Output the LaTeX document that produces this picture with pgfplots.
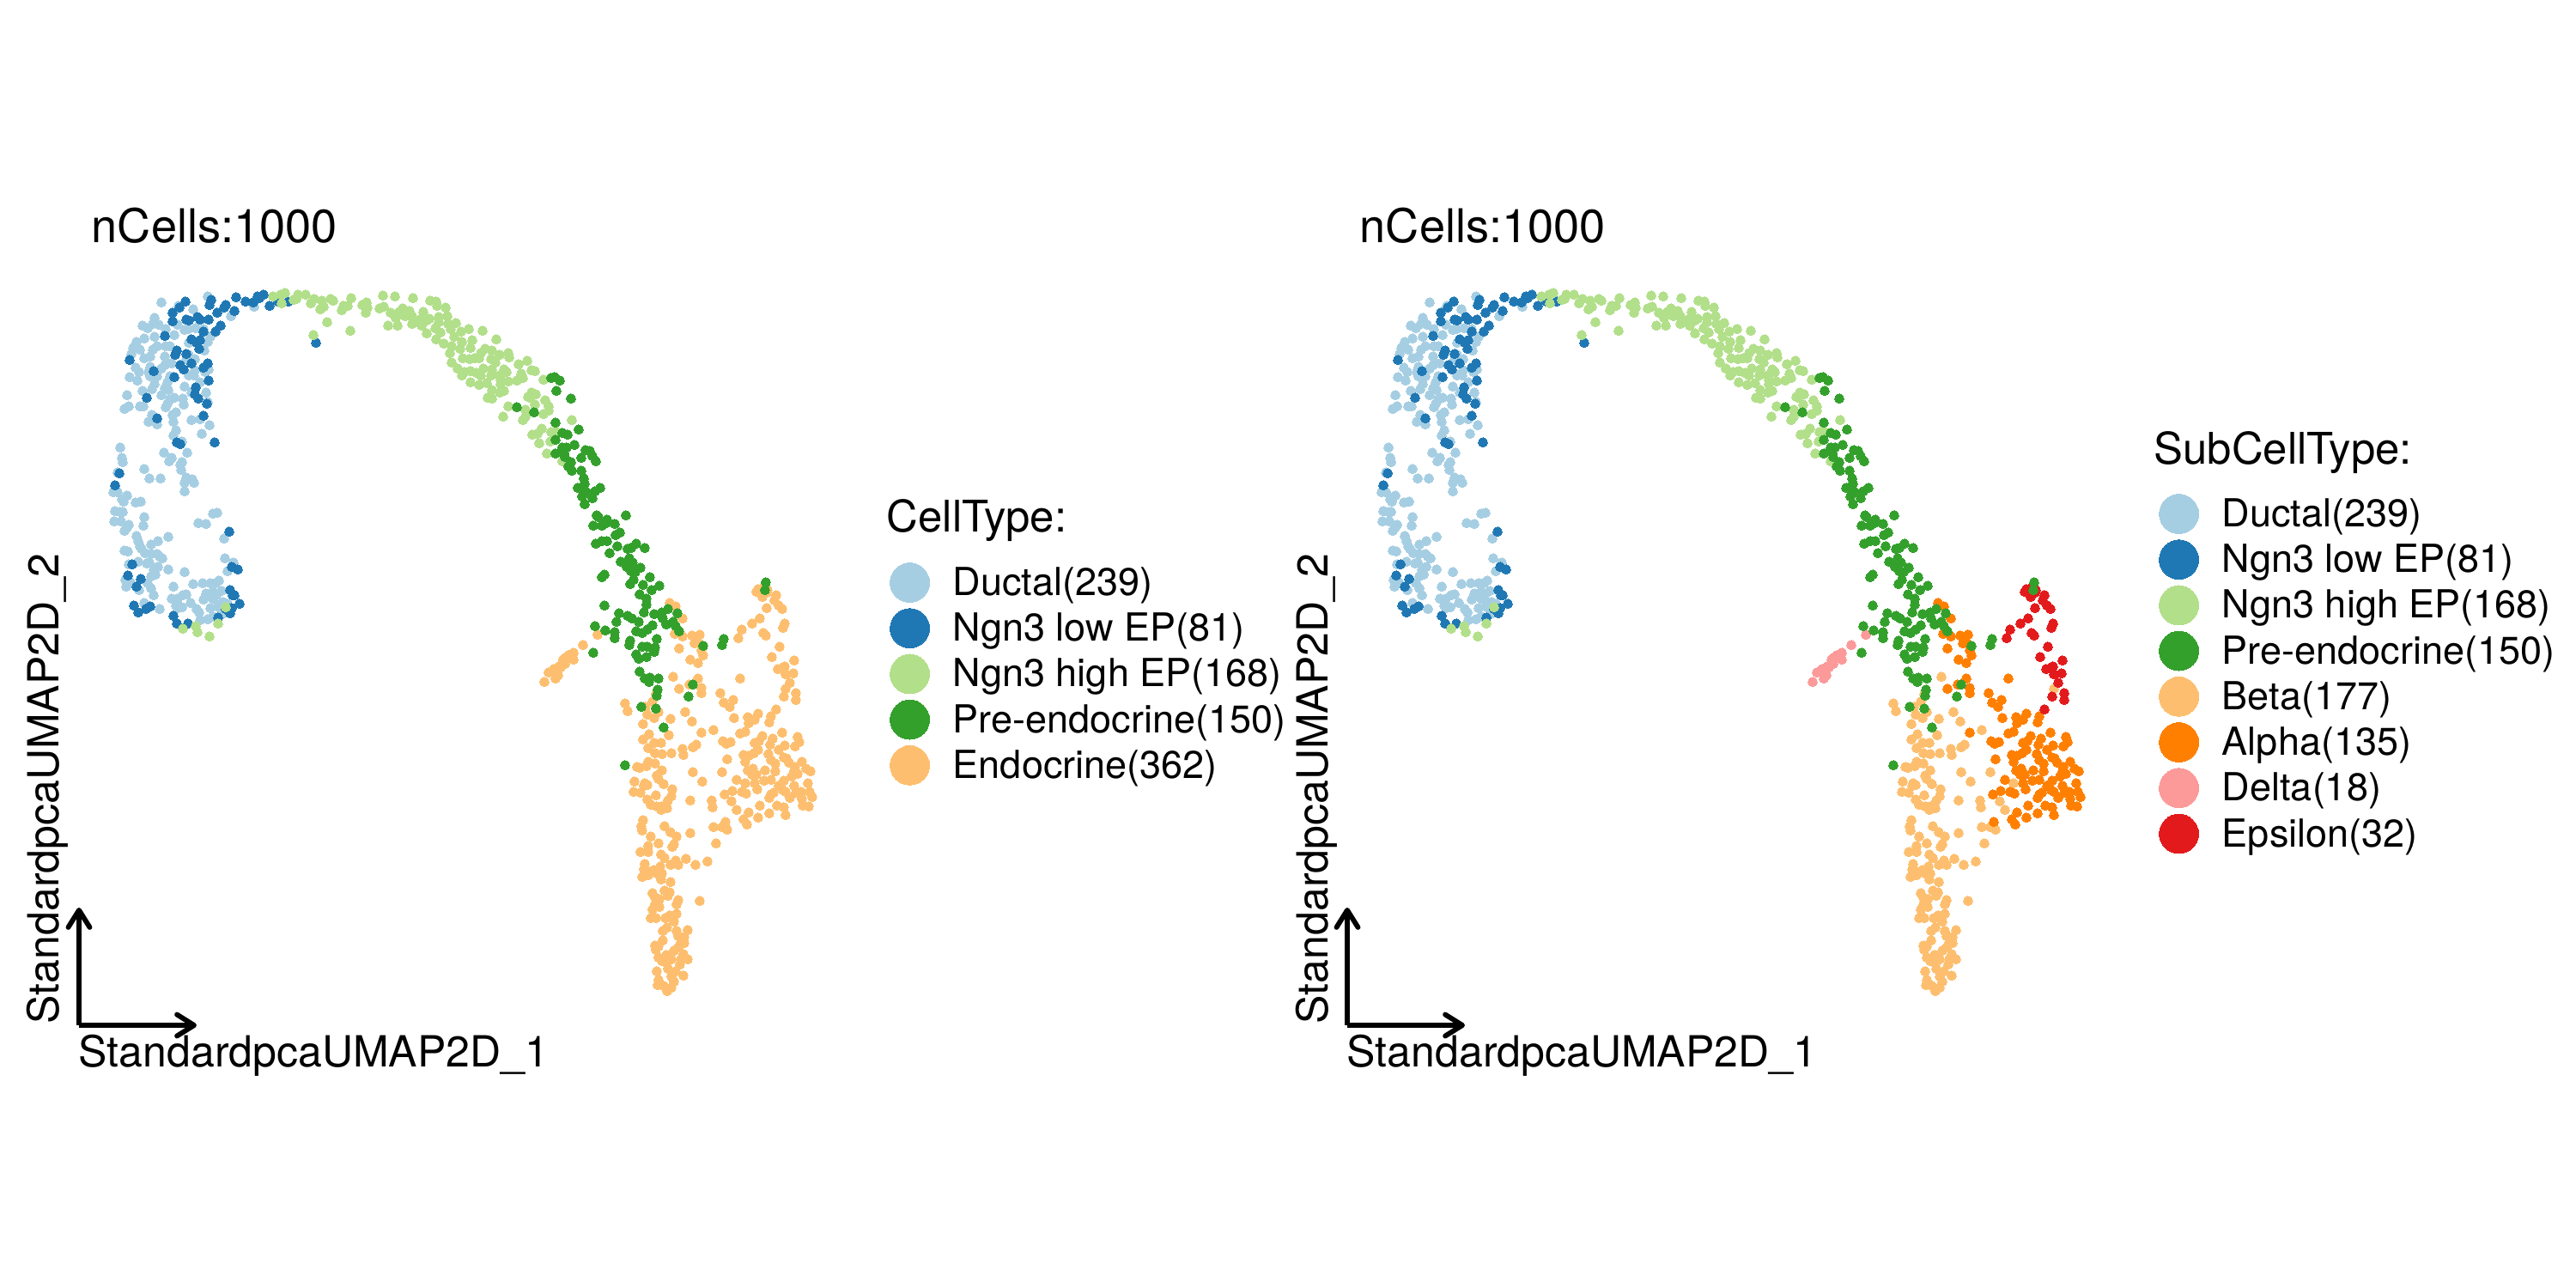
\documentclass[border=0pt]{standalone}
\usepackage{fontspec}
\setmainfont{TeX Gyre Heros}
\usepackage{pgfplots}
\usepackage{pgfplotstable}
\pgfplotsset{compat=1.18}
\usetikzlibrary{arrows.meta}

\definecolor{cDuctal}{HTML}{A6CEE3}
\definecolor{cLow}{HTML}{1F78B4}
\definecolor{cHigh}{HTML}{B2DF8A}
\definecolor{cPre}{HTML}{33A02C}
\definecolor{cBeta}{HTML}{FDBF6F}
\definecolor{cAlpha}{HTML}{FF7F00}
\definecolor{cDelta}{HTML}{FB9A99}
\definecolor{cEpsilon}{HTML}{E31A1C}

% embedding positions
\pgfplotstableread[row sep=\\]{x y\\
242 345\\ 188 352\\ 208 356\\ 225 360\\ 296 357\\ 269 368\\ 180 370\\ 166 379\\ 172 382\\ 178 377\\
185 378\\ 193 383\\ 207 378\\ 215 384\\ 219 383\\ 228 382\\ 237 383\\ 203 390\\ 180 392\\ 168 394\\
159 398\\ 155 405\\ 163 407\\ 153 412\\ 168 417\\ 175 415\\ 178 407\\ 183 403\\ 193 403\\ 198 403\\
192 415\\ 200 423\\ 192 425\\ 220 399\\ 245 392\\ 242 398\\ 238 408\\ 220 413\\ 217 418\\ 227 418\\
175 427\\ 158 428\\ 162 433\\ 173 433\\ 188 429\\ 175 438\\ 183 438\\ 151 439\\ 160 443\\ 180 447\\
195 445\\ 198 438\\ 220 437\\ 226 437\\ 227 431\\ 239 433\\ 243 430\\ 233 445\\ 215 450\\ 177 453\\
166 455\\ 188 460\\ 196 454\\ 192 452\\ 240 457\\ 223 457\\ 148 460\\ 213 464\\ 214 471\\ 203 463\\
198 465\\ 195 470\\ 193 474\\ 150 473\\ 145 476\\ 163 473\\ 167 473\\ 242 468\\ 205 480\\ 201 483\\
177 483\\ 173 491\\ 183 494\\ 202 491\\ 223 489\\ 233 488\\ 244 495\\ 205 501\\ 202 507\\ 235 505\\
212 514\\ 140 521\\ 191 527\\ 218 527\\ 142 533\\ 143 538\\ 200 533\\ 197 537\\ 212 538\\ 210 541\\
211 547\\ 168 546\\ 137 550\\ 174 557\\ 187 557\\ 217 556\\ 215 562\\ 224 558\\ 226 562\\ 215 572\\
132 573\\ 137 573\\ 148 577\\ 142 581\\ 144 584\\ 158 585\\ 164 584\\ 134 595\\ 140 596\\ 143 596\\
168 602\\ 248 598\\ 253 597\\ 133 607\\ 141 607\\ 150 611\\ 148 614\\ 145 618\\ 167 612\\ 159 624\\
161 630\\ 163 636\\ 165 639\\ 176 634\\ 184 630\\ 196 625\\ 231 609\\ 240 610\\ 261 627\\ 145 641\\
149 642\\ 169 644\\ 176 645\\ 183 645\\ 186 648\\ 189 650\\ 150 657\\ 161 654\\ 171 656\\ 174 655\\
184 660\\ 179 663\\ 181 669\\ 176 671\\ 196 663\\ 215 666\\ 262 650\\ 272 655\\ 265 665\\ 146 675\\
152 678\\ 147 683\\ 162 687\\ 172 679\\ 176 685\\ 179 693\\ 225 680\\ 236 679\\ 245 679\\ 251 679\\
255 676\\ 202 683\\ 258 688\\ 240 691\\ 248 689\\ 243 693\\ 252 693\\ 200 697\\ 207 697\\ 213 693\\
217 692\\ 237 698\\ 222 702\\ 248 697\\ 168 702\\ 186 709\\ 205 705\\ 212 707\\ 207 708\\ 229 709\\
232 713\\ 245 708\\ 254 704\\ 260 701\\ 265 703\\ 255 707\\ 233 722\\ 242 721\\ 248 718\\ 259 715\\
}\tblDuctal

\pgfplotstableread[row sep=\\]{x y\\
275 346\\ 286 351\\ 295 352\\ 300 345\\ 307 343\\ 302 347\\ 314 356\\ 324 351\\ 336 351\\ 216 351\\
209 358\\ 201 364\\ 244 355\\ 246 349\\ 253 364\\ 263 355\\ 261 358\\ 273 362\\ 243 372\\ 230 369\\
233 372\\ 217 372\\ 220 373\\ 201 374\\ 257 379\\ 251 386\\ 237 386\\ 192 391\\ 223 395\\ 233 396\\
229 399\\ 232 406\\ 206 408\\ 204 413\\ 217 412\\ 151 419\\ 223 423\\ 242 423\\ 237 428\\ 210 425\\
214 430\\ 179 432\\ 203 439\\ 243 443\\ 228 451\\ 227 459\\ 231 464\\ 171 463\\ 241 470\\ 237 484\\
183 487\\ 206 515\\ 210 517\\ 250 515\\ 139 551\\ 134 565\\ 368 399\\ 267 619\\ 154 657\\ 270 660\\
277 663\\ 149 670\\ 164 674\\ 159 683\\ 268 687\\ 271 693\\ 273 693\\ 279 703\\ 270 708\\ 263 709\\
268 714\\ 254 719\\ 156 705\\ 161 713\\ 170 709\\ 175 706\\ 202 717\\ 206 726\\ 219 726\\
}\tblLow

\pgfplotstableread[row sep=\\]{x y\\
228 729\\ 213 732\\ 230 736\\ 244 741\\ 254 726\\ 263 707\\ 318 345\\ 327 343\\ 332 341\\ 328 353\\
342 349\\ 347 343\\ 345 348\\ 356 343\\ 362 353\\ 366 348\\ 375 350\\ 377 357\\ 373 360\\ 385 348\\
388 350\\ 409 347\\ 400 356\\ 405 356\\ 398 361\\ 381 375\\ 365 390\\ 408 385\\ 422 355\\ 427 352\\
428 358\\ 426 364\\ 442 359\\ 447 357\\ 446 344\\ 460 345\\ 481 347\\ 455 364\\ 461 370\\ 465 363\\
469 359\\ 477 362\\ 472 368\\ 480 368\\ 452 379\\ 463 379\\ 480 377\\ 489 372\\ 493 363\\ 500 371\\
497 373\\ 491 379\\ 501 350\\ 508 351\\ 509 356\\ 519 358\\ 511 369\\ 511 375\\ 507 382\\ 521 368\\
522 377\\ 525 383\\ 531 376\\ 537 386\\ 546 383\\ 562 385\\ 497 388\\ 513 387\\ 508 395\\ 517 400\\
529 392\\ 538 398\\ 550 396\\ 548 405\\ 536 406\\ 526 403\\ 524 411\\ 578 395\\ 526 422\\ 533 429\\
539 417\\ 547 418\\ 553 417\\ 558 417\\ 560 411\\ 565 406\\ 573 408\\ 582 413\\ 572 418\\ 577 422\\
592 411\\ 593 416\\ 538 437\\ 541 433\\ 548 432\\ 555 434\\ 560 437\\ 563 429\\ 572 437\\ 573 430\\
587 430\\ 590 433\\ 582 437\\ 583 442\\ 592 444\\ 602 443\\ 607 435\\ 609 440\\ 604 424\\ 614 420\\
619 431\\ 623 432\\ 633 442\\ 548 445\\ 558 448\\ 567 446\\ 583 447\\ 587 455\\ 582 457\\ 573 454\\
568 463\\ 573 464\\ 619 457\\ 624 459\\ 615 462\\ 617 463\\ 635 466\\ 592 473\\ 612 477\\ 623 471\\
639 473\\ 639 478\\ 633 482\\ 612 485\\ 586 485\\ 609 489\\ 666 489\\ 631 499\\ 626 505\\ 620 506\\
642 503\\ 647 502\\ 628 516\\ 641 514\\ 637 528\\ 655 537\\
}\tblHigh

\pgfplotstableread[row sep=\\]{x y\\
642 440\\ 646 439\\ 652 443\\ 648 455\\ 665 464\\ 602 474\\ 622 480\\ 647 492\\ 674 500\\ 655 504\\
661 506\\ 647 512\\ 669 518\\ 655 521\\ 660 521\\ 657 527\\ 647 528\\ 658 532\\ 682 524\\ 687 525\\
690 531\\ 694 537\\ 677 533\\ 665 538\\ 662 543\\ 666 548\\ 677 548\\ 680 557\\ 681 563\\ 673 568\\
678 567\\ 683 573\\ 678 578\\ 690 580\\ 681 587\\ 693 572\\ 699 568\\ 695 600\\ 697 602\\ 707 605\\
691 612\\ 701 612\\ 706 609\\ 716 610\\ 729 600\\ 717 623\\ 722 620\\ 694 633\\ 701 630\\ 707 630\\
719 636\\ 741 633\\ 751 638\\ 731 639\\ 735 638\\ 710 644\\ 733 650\\ 723 654\\ 730 660\\ 737 655\\
746 661\\ 735 665\\ 740 666\\ 701 672\\ 704 669\\ 757 672\\ 768 682\\ 738 675\\ 734 680\\ 749 681\\
759 687\\ 745 692\\ 753 697\\ 753 704\\ 750 713\\ 704 705\\ 721 714\\ 731 717\\ 736 720\\ 744 724\\
718 724\\ 693 729\\ 705 734\\ 716 736\\ 716 743\\ 760 728\\ 741 735\\ 748 737\\ 754 733\\ 762 715\\
771 713\\ 778 709\\ 789 714\\ 772 720\\ 776 727\\ 784 724\\ 787 729\\ 791 735\\ 765 744\\ 734 746\\
733 751\\ 748 753\\ 754 753\\ 763 754\\ 762 759\\ 741 762\\ 744 767\\ 753 765\\ 691 760\\ 745 782\\
751 790\\ 757 789\\ 756 794\\ 767 790\\ 766 803\\ 765 810\\ 802 811\\ 807 797\\ 747 823\\ 764 825\\
773 847\\ 728 891\\ 843 744\\ 841 751\\ 819 752\\ 892 678\\ 891 687\\
}\tblPre

\pgfplotstableread[row sep=\\]{x y\\
915 802\\ 784 788\\ 728 819\\ 731 828\\ 752 823\\ 760 817\\ 767 829\\ 754 832\\ 762 836\\ 798 829\\
781 837\\ 806 840\\ 749 843\\ 831 850\\ 779 856\\ 756 855\\ 749 861\\ 762 865\\ 770 865\\ 755 871\\
763 877\\ 771 878\\ 782 877\\ 795 872\\ 796 879\\ 807 870\\ 811 867\\ 742 893\\ 745 894\\ 755 887\\
753 892\\ 763 889\\ 771 897\\ 807 899\\ 841 899\\ 764 808\\ 765 903\\ 767 907\\ 739 910\\ 751 912\\
754 914\\ 750 915\\ 773 913\\ 783 919\\ 782 927\\ 738 922\\ 746 923\\ 764 926\\ 754 931\\ 758 937\\
765 939\\ 770 943\\ 777 941\\ 778 932\\ 771 939\\ 818 910\\ 804 932\\ 829 932\\ 830 940\\ 852 933\\
858 943\\ 868 912\\ 749 955\\ 747 962\\ 748 967\\ 774 962\\ 781 969\\ 788 974\\ 758 974\\ 767 982\\
785 983\\ 783 986\\ 804 970\\ 831 963\\ 841 963\\ 847 966\\ 834 982\\ 755 985\\ 746 992\\ 755 992\\
770 995\\ 774 999\\ 799 1000\\ 787 1002\\ 781 1007\\ 790 1007\\ 824 1003\\ 810 1007\\ 751 1006\\ 750 1012\\
769 1009\\ 762 1013\\ 765 1017\\ 748 1021\\ 755 1019\\ 758 1015\\ 771 1017\\ 770 1024\\ 781 1027\\ 760 1040\\
774 1037\\ 780 1039\\ 778 1043\\ 768 1047\\ 763 1045\\ 763 1053\\ 768 1056\\ 790 1048\\ 788 1053\\ 760 1059\\
815 1049\\ 758 1069\\ 764 1069\\ 775 1069\\ 780 1066\\ 788 1064\\ 785 1073\\ 777 1080\\ 772 1084\\ 801 1083\\
788 1084\\ 790 1090\\ 797 1091\\ 772 1095\\ 763 1101\\ 764 1106\\ 767 1102\\ 797 1098\\ 792 1100\\ 790 1103\\
785 1107\\ 776 1112\\ 767 1115\\ 796 1111\\ 801 1117\\ 793 1117\\ 782 1117\\ 771 1119\\ 777 1122\\ 778 1128\\
792 1123\\ 765 1131\\ 787 1131\\ 796 1136\\ 782 1137\\ 767 1141\\ 785 1143\\ 766 1147\\ 773 1148\\ 782 1150\\
777 1154\\
}\tblBeta

\pgfplotstableread[row sep=\\]{x y\\
780 702\\ 787 706\\ 795 720\\ 786 738\\ 795 741\\ 806 740\\ 815 739\\ 809 749\\ 813 748\\ 817 757\\
819 763\\ 791 755\\ 804 768\\ 813 772\\ 817 801\\ 817 807\\ 813 790\\ 803 797\\ 791 802\\ 862 790\\
839 807\\ 843 818\\ 850 823\\ 854 815\\ 855 836\\ 871 835\\ 872 842\\ 879 838\\ 883 831\\ 898 834\\
896 841\\ 817 853\\ 862 854\\ 868 852\\ 842 863\\ 846 866\\ 851 864\\ 879 865\\ 884 863\\ 888 857\\
900 860\\ 897 867\\ 911 853\\ 929 858\\ 931 864\\ 926 869\\ 914 868\\ 907 873\\ 883 873\\ 878 877\\
866 879\\ 872 880\\ 895 878\\ 898 885\\ 903 889\\ 913 882\\ 916 883\\ 919 888\\ 926 893\\ 934 887\\
847 884\\ 868 887\\ 871 897\\ 877 895\\ 891 897\\ 903 898\\ 939 895\\ 944 898\\ 925 898\\ 844 925\\
853 921\\ 864 922\\ 869 924\\ 858 908\\ 881 902\\ 876 902\\ 879 912\\ 882 919\\ 890 909\\ 898 908\\
922 904\\ 929 901\\ 913 909\\ 907 915\\ 901 923\\ 896 929\\ 898 925\\ 912 920\\ 915 922\\ 925 915\\
920 929\\ 927 923\\ 933 922\\ 941 912\\ 943 922\\ 946 928\\ 934 930\\ 935 938\\ 942 939\\ 905 938\\
913 940\\ 915 949\\ 896 947\\ 885 938\\ 883 952\\ 872 946\\ 866 954\\ 870 960\\ 845 957\\
}\tblAlpha

\pgfplotstableread[row sep=\\]{x y\\
696 739\\ 679 751\\ 668 760\\ 663 763\\ 658 766\\ 668 768\\ 658 773\\ 651 776\\ 645 779\\
639 783\\ 650 786\\ 647 790\\ 634 794\\ 662 763\\ 656 768\\ 643 782\\ 647 785\\ 653 777\\
}\tblDelta

\pgfplotstableread[row sep=\\]{x y\\
889 684\\ 894 687\\ 881 689\\ 888 695\\ 904 693\\ 902 699\\ 907 705\\ 911 709\\ 893 708\\ 885 720\\
876 726\\ 864 733\\ 860 743\\ 914 726\\ 912 731\\ 889 737\\ 892 740\\ 908 753\\ 899 765\\ 925 769\\
906 779\\ 912 777\\ 914 776\\ 915 785\\ 924 784\\ 920 795\\ 927 807\\ 913 811\\ 927 815\\ 904 826\\
883 686\\ 893 690\\
}\tblEpsilon

\pgfplotsset{
  panel/.style={
    x=0.24bp, y=0.24bp, y dir=reverse,
    xmin=0, xmax=1500, ymin=0, ymax=1500,
    hide axis, clip=false,
    legend cell align=left,
    legend image code/.code={\path (-5.5bp,0bp) -- (5.5bp,0bp); \draw[##1] plot coordinates {(0bp,0bp)};},
    legend image post style={mark size=5.5bp},
    legend style={
      draw=none, fill=none, inner sep=0pt, row sep=0pt,
      font=\fontsize{10.8bp}{13bp}\selectfont,
      nodes={inner sep=0pt, text height=10bp, text depth=2.77bp},
      /tikz/every odd column/.append style={column sep=6.4bp},
      legend columns=1,
    },
  },
  pt/.style={only marks, mark=*, mark size=1.3bp, mark options={draw=#1, fill=#1, line width=0pt}},
  axarrow/.style={black, line width=1.4bp, -{Straight Barb[round,length=4.8bp,width=6bp]}, no markers},
}
\newcommand{\titlefont}{\fontsize{13bp}{15bp}\selectfont}
\newcommand{\labelfont}{\fontsize{12bp}{14bp}\selectfont}
\newcommand{\legtitlefont}{\fontsize{12.2bp}{14bp}\selectfont}

\begin{document}
\begin{tikzpicture}
\path[use as bounding box] (0,0) rectangle (720bp,360bp);

\begin{axis}[panel, at={(0,0)}, anchor=south west,
    legend style={at={(axis cs:1035,651)}, anchor=north west}]
  \addplot[pt=cDuctal, forget plot] table[x=x,y=y] {\tblDuctal};
  \addplot[pt=cLow, forget plot] table[x=x,y=y] {\tblLow};
  \addplot[pt=cHigh, forget plot] table[x=x,y=y] {\tblHigh};
  \addplot[pt=cBeta, forget plot] table[x=x,y=y] {\tblBeta};
  \addplot[pt=cBeta, forget plot] table[x=x,y=y] {\tblAlpha};
  \addplot[pt=cBeta, forget plot] table[x=x,y=y] {\tblDelta};
  \addplot[pt=cBeta, forget plot] table[x=x,y=y] {\tblEpsilon};
  \addplot[pt=cPre, forget plot] table[x=x,y=y] {\tblPre};
  \addplot[axarrow, forget plot] coordinates {(92,1194) (229,1194)};
  \addplot[axarrow, forget plot] coordinates {(92,1194) (92,1057)};
  \addlegendimage{pt=cDuctal}\addlegendentry{Ductal(239)}
  \addlegendimage{pt=cLow}\addlegendentry{Ngn3 low EP(81)}
  \addlegendimage{pt=cHigh}\addlegendentry{Ngn3 high EP(168)}
  \addlegendimage{pt=cPre}\addlegendentry{Pre-endocrine(150)}
  \addlegendimage{pt=cBeta}\addlegendentry{Endocrine(362)}
  \node[anchor=base west, inner sep=0pt, font=\titlefont] at (axis cs:106,282) {nCells:1000};
  \node[anchor=base west, inner sep=0pt, font=\labelfont] at (axis cs:91,1242) {StandardpcaUMAP2D\_1};
  \node[anchor=base west, inner sep=0pt, rotate=90, font=\labelfont] at (axis cs:69,1193) {StandardpcaUMAP2D\_2};
  \node[anchor=base west, inner sep=0pt, font=\legtitlefont] at (axis cs:1032,619) {CellType:};
\end{axis}

\begin{axis}[panel, at={(354.48bp,0bp)}, anchor=south west, xmax=1523,
    legend style={at={(axis cs:1036,571)}, anchor=north west}]
  \addplot[pt=cDuctal, forget plot] table[x=x,y=y] {\tblDuctal};
  \addplot[pt=cLow, forget plot] table[x=x,y=y] {\tblLow};
  \addplot[pt=cHigh, forget plot] table[x=x,y=y] {\tblHigh};
  \addplot[pt=cBeta, forget plot] table[x=x,y=y] {\tblBeta};
  \addplot[pt=cAlpha, forget plot] table[x=x,y=y] {\tblAlpha};
  \addplot[pt=cDelta, forget plot] table[x=x,y=y] {\tblDelta};
  \addplot[pt=cEpsilon, forget plot] table[x=x,y=y] {\tblEpsilon};
  \addplot[pt=cPre, forget plot] table[x=x,y=y] {\tblPre};
  \addplot[axarrow, forget plot] coordinates {(92,1194) (229,1194)};
  \addplot[axarrow, forget plot] coordinates {(92,1194) (92,1057)};
  \addlegendimage{pt=cDuctal}\addlegendentry{Ductal(239)}
  \addlegendimage{pt=cLow}\addlegendentry{Ngn3 low EP(81)}
  \addlegendimage{pt=cHigh}\addlegendentry{Ngn3 high EP(168)}
  \addlegendimage{pt=cPre}\addlegendentry{Pre-endocrine(150)}
  \addlegendimage{pt=cBeta}\addlegendentry{Beta(177)}
  \addlegendimage{pt=cAlpha}\addlegendentry{Alpha(135)}
  \addlegendimage{pt=cDelta}\addlegendentry{Delta(18)}
  \addlegendimage{pt=cEpsilon}\addlegendentry{Epsilon(32)}
  \node[anchor=base west, inner sep=0pt, font=\titlefont] at (axis cs:106,282) {nCells:1000};
  \node[anchor=base west, inner sep=0pt, font=\labelfont] at (axis cs:91,1242) {StandardpcaUMAP2D\_1};
  \node[anchor=base west, inner sep=0pt, rotate=90, font=\labelfont] at (axis cs:69,1193) {StandardpcaUMAP2D\_2};
  \node[anchor=base west, inner sep=0pt, font=\legtitlefont] at (axis cs:1031,540) {SubCellType:};
\end{axis}
\end{tikzpicture}
\end{document}
